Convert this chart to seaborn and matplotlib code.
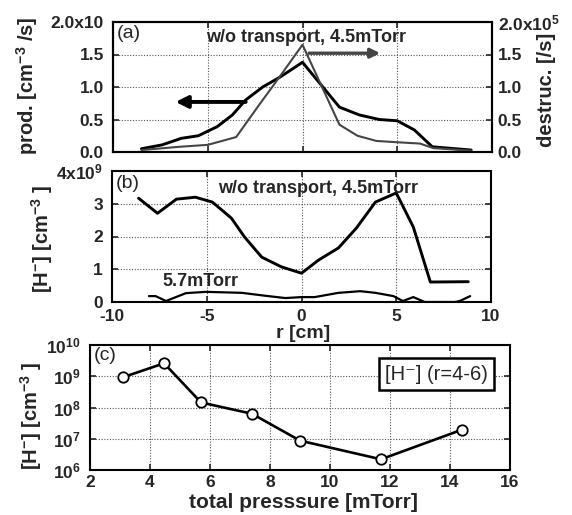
import matplotlib
matplotlib.use("Agg")
import matplotlib.pyplot as plt
import pandas as pd
import seaborn as sns

# (a) production (left axis) and destruction (right axis, x1e5 /s) profiles, 4.5 mTorr
r_prod = [-8.5, -7.4, -6.4, -5.5, -4.5, -3.7, -3.0, -2.1, -1.2, 0.0,
          1.95, 3.0, 4.05, 5.0, 5.9, 6.85, 8.9]
prod = [0.05, 0.11, 0.21, 0.25, 0.39, 0.57, 0.80, 1.00, 1.15, 1.38,
        0.69, 0.57, 0.50, 0.48, 0.34, 0.08, 0.03]
r_dest = [-8.5, -6.5, -5.0, -3.5, -2.3, -1.1, 0.0, 1.95, 2.9, 3.9,
          5.0, 6.2, 6.9, 8.9]
dest = [0.03, 0.08, 0.11, 0.23, 0.72, 1.20, 1.65, 0.42, 0.25, 0.17,
        0.15, 0.13, 0.06, 0.02]

# (b) H- density profiles, x1e9 cm^-3
r_45 = [-8.6, -7.6, -6.6, -5.6, -4.7, -3.7, -3.0, -2.1, -1.05, 0.0,
        0.9, 1.95, 2.9, 3.9, 5.0, 5.9, 6.8, 8.8]
hm_45 = [3.17, 2.71, 3.14, 3.20, 3.05, 2.56, 1.98, 1.37, 1.07, 0.88,
         1.28, 1.65, 2.26, 3.05, 3.33, 2.29, 0.61, 0.62]
r_57 = [-8.05, -7.7, -7.15, -6.1, -5.05, -3.15, -1.9, -0.85, 0.0, 0.7,
        1.95, 3.1, 3.9, 4.85, 5.35, 5.9, 6.5, 8.1, 8.35, 8.9]
hm_57 = [0.18, 0.18, 0.03, 0.27, 0.31, 0.28, 0.19, 0.12, 0.15, 0.15,
         0.28, 0.33, 0.28, 0.18, 0.03, 0.15, 0.0, 0.0, 0.03, 0.18]

# (c) H- density around r=4-6 cm versus total pressure
pressure = [3.1, 4.47, 5.7, 7.4, 9.0, 11.7, 14.4]
hm_r46 = [9.3e8, 2.6e9, 1.45e8, 6.3e7, 8.7e6, 2.2e6, 1.95e7]

r_ticks = [-10, -5, 0, 5, 10]
a_ticks = [0.0, 0.5, 1.0, 1.5, 2.0]
a_left_labels = ["0.0", "0.5", "1.0", "1.5", "2.0x10"]
a_right_labels = ["0.0", "0.5", "1.0", "1.5", r"$\mathrm{2.0x10^{5}}$"]
b_ticks = [0, 1, 2, 3, 4]
b_labels = ["0", "1", "2", "3", r"$\mathrm{4x10^{9}}$"]
p_ticks = [2, 4, 6, 8, 10, 12, 14, 16]
c_ticks = [1e6, 1e7, 1e8, 1e9, 1e10]
c_labels = [r"$\mathrm{10^{6}}$", r"$\mathrm{10^{7}}$", r"$\mathrm{10^{8}}$",
            r"$\mathrm{10^{9}}$", r"$\mathrm{10^{10}}$"]

sns.set_style("ticks")
plt.rcParams.update({
    "font.family": ["Liberation Sans", "DejaVu Sans"],
    "font.weight": "bold",
    "mathtext.fontset": "custom",
    "mathtext.rm": "Liberation Sans:bold",
    "mathtext.it": "Liberation Sans:bold",
    "mathtext.bf": "Liberation Sans:bold",
    "axes.linewidth": 1.5,
    "axes.edgecolor": "black",
    "xtick.direction": "in",
    "ytick.direction": "in",
    "xtick.major.size": 4,
    "ytick.major.size": 4,
    "xtick.major.width": 1.2,
    "ytick.major.width": 1.2,
    "xtick.labelsize": 12.5,
    "ytick.labelsize": 12.5,
})

W, H = 572, 515
fig = plt.figure(figsize=(W / 100, H / 100), dpi=100)


def box(l, t, r, b):
    return [l / W, 1 - b / H, (r - l) / W, (b - t) / H]


grid_kw = dict(color="#555555", linestyle=(0, (1, 1.5)), linewidth=0.8)
YPAD, XPAD = 6.5, 3.5

# ---------- (a)
ax_a = fig.add_axes(box(113, 22, 492, 152))
ax_a2 = ax_a.twinx()
df_p = pd.DataFrame({"r": r_prod, "v": prod})
df_d = pd.DataFrame({"r": r_dest, "v": dest})
sns.lineplot(data=df_p, x="r", y="v", ax=ax_a, color="black", lw=2.1,
             estimator=None, sort=False)
sns.lineplot(data=df_d, x="r", y="v", ax=ax_a2, color="#454545", lw=1.5,
             estimator=None, sort=False)
for ax in (ax_a, ax_a2):
    ax.set_xlim(-10, 10)
    ax.set_ylim(0, 2.0)
    ax.set_xlabel("")
    ax.set_ylabel("")
ax_a.set_xticks(r_ticks)
ax_a.set_xticklabels([])
ax_a.tick_params(axis="x", top=True)
ax_a.tick_params(axis="y", right=False, pad=YPAD)
ax_a.set_yticks(a_ticks)
ax_a.set_yticklabels(a_left_labels)
ax_a2.set_yticks(a_ticks)
ax_a2.set_yticklabels(a_right_labels)
ax_a2.tick_params(axis="y", right=True, pad=4)
ax_a.grid(True, **grid_kw)
ax_a.set_axisbelow(True)
ax_a.text(0.01, 0.915, "(a)", transform=ax_a.transAxes, fontsize=14,
          fontweight="normal", va="center", ha="left")
ax_a.text(0.245, 0.877, "w/o transport, 4.5mTorr", transform=ax_a.transAxes,
          fontsize=13, va="center", ha="left")
ax_a.annotate("", xy=(-6.7, 0.77), xytext=(-3.0, 0.77),
              arrowprops=dict(arrowstyle="-|>", color="black", lw=2.8,
                              mutation_scale=18, shrinkA=0, shrinkB=0))
ax_a2.annotate("", xy=(4.1, 1.52), xytext=(0.35, 1.52),
               arrowprops=dict(arrowstyle="-|>", color="#454545", lw=2.4,
                               mutation_scale=14, shrinkA=0, shrinkB=0))

# ---------- (b)
ax_b = fig.add_axes(box(112, 171, 491, 302))
df_45 = pd.DataFrame({"r": r_45, "v": hm_45})
df_57 = pd.DataFrame({"r": r_57, "v": hm_57})
sns.lineplot(data=df_45, x="r", y="v", ax=ax_b, color="black", lw=2.1,
             estimator=None, sort=False)
sns.lineplot(data=df_57, x="r", y="v", ax=ax_b, color="black", lw=1.6,
             estimator=None, sort=False)
ax_b.set_xlim(-10, 10)
ax_b.set_ylim(0, 4)
ax_b.set_xlabel("")
ax_b.set_ylabel("")
ax_b.set_xticks(r_ticks)
ax_b.set_xticklabels([str(t) for t in r_ticks])
ax_b.set_yticks(b_ticks)
ax_b.set_yticklabels(b_labels)
ax_b.tick_params(axis="x", top=True, pad=5)
ax_b.tick_params(axis="y", right=True, pad=YPAD)
ax_b.grid(True, **grid_kw)
ax_b.text(0.01, 0.905, "(b)", transform=ax_b.transAxes, fontsize=14,
          fontweight="normal", va="center", ha="left")
ax_b.text(0.28, 0.863, "w/o transport, 4.5mTorr", transform=ax_b.transAxes,
          fontsize=13, va="center", ha="left")
ax_b.text(0.132, 0.16, "5.7mTorr", transform=ax_b.transAxes,
          fontsize=13, va="center", ha="left")

# ---------- (c)
ax_c = fig.add_axes(box(90, 345, 510, 470))
df_c = pd.DataFrame({"p": pressure, "v": hm_r46})
sns.lineplot(data=df_c, x="p", y="v", ax=ax_c, color="black", lw=1.9,
             marker="o", markersize=7.5, markerfacecolor="white",
             markeredgecolor="black", markeredgewidth=1.3,
             estimator=None, sort=False)
ax_c.set_yscale("log")
ax_c.set_xlim(2, 16)
ax_c.set_ylim(1e6, 1e10)
ax_c.set_xlabel("")
ax_c.set_ylabel("")
ax_c.set_xticks(p_ticks)
ax_c.set_xticklabels([str(t) for t in p_ticks])
ax_c.set_yticks(c_ticks)
ax_c.set_yticklabels(c_labels)
ax_c.minorticks_off()
ax_c.tick_params(axis="x", top=True, pad=XPAD)
ax_c.tick_params(axis="y", right=True, pad=YPAD)
ax_c.grid(True, **grid_kw)
ax_c.text(0.01, 0.915, "(c)", transform=ax_c.transAxes, fontsize=14,
          fontweight="normal", va="center", ha="left")
ax_c.text(0.826, 0.768, "[H\u207b] (r=4-6)", transform=ax_c.transAxes,
          fontsize=14.5, fontweight="normal", va="center", ha="center",
          bbox=dict(boxstyle="square,pad=0.3", facecolor="white",
                    edgecolor="black", linewidth=1.8))

# ---------- axis titles
fig.text(27 / W, 1 - 86 / H, r"prod. [cm$^{-3}$ /s]", rotation=90,
         fontsize=14.5, ha="center", va="center")
fig.text(546 / W, 1 - 90 / H, "destruc. [/s]", rotation=90,
         fontsize=14.5, ha="center", va="center")
fig.text(42 / W, 1 - 239 / H, r"[H$^{-}$] [cm$^{-3}$ ]", rotation=90,
         fontsize=14.5, ha="center", va="center")
fig.text(303 / W, 1 - 334 / H, "r [cm]", fontsize=14, ha="center",
         va="center")
fig.text(31 / W, 1 - 416 / H, r"[H$^{-}$] [cm$^{-3}$ ]", rotation=90,
         fontsize=14.5, ha="center", va="center")
fig.text(303 / W, 1 - 502 / H, "total presssure [mTorr]", fontsize=15,
         ha="center", va="center")

fig.savefig("out.png", dpi=100)
